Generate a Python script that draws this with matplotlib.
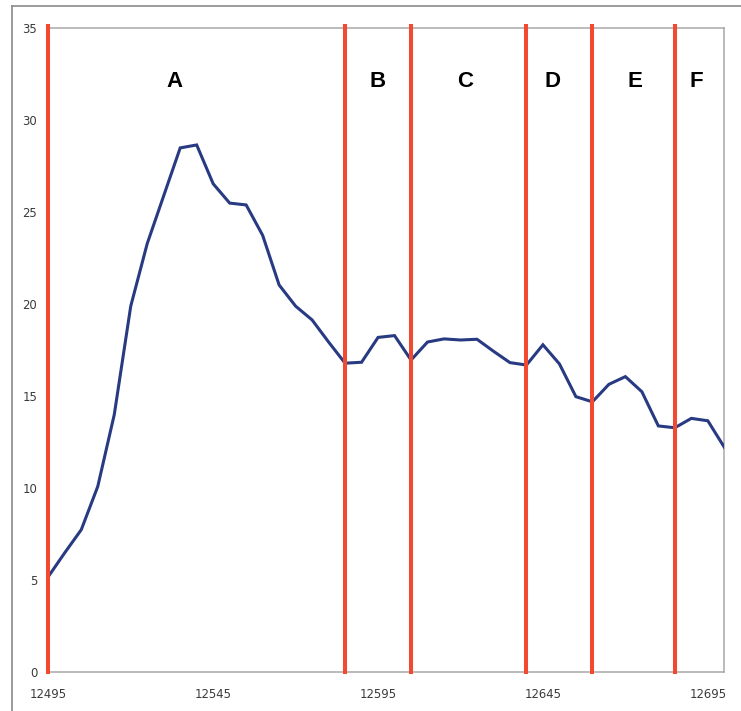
import matplotlib
matplotlib.use("Agg")
import matplotlib.pyplot as plt
from matplotlib.lines import Line2D

# Data
x_start = 12495
x_step = 5
values = [5.2, 6.5, 7.75, 10.1, 14.0, 19.9, 23.3, 25.9, 28.5, 28.66,
          26.55, 25.5, 25.4, 23.75, 21.05, 19.9, 19.15, 17.95, 16.8, 16.85,
          18.2, 18.3, 16.97, 17.95, 18.12, 18.06, 18.1, 17.45, 16.83, 16.7,
          17.8, 16.76, 14.98, 14.7, 15.65, 16.07, 15.25, 13.39, 13.29, 13.8,
          13.67, 12.23]
xs = [x_start + i * x_step for i in range(len(values))]

boundaries = [12495, 12585, 12605, 12640, 12660, 12685]
region_labels = ["A", "B", "C", "D", "E", "F"]
label_x = [12533.4, 12595, 12621.4, 12648, 12673, 12691.4]
label_y = 32.1

x_ticks = [12495, 12545, 12595, 12645, 12695]
y_ticks = [0, 5, 10, 15, 20, 25, 30, 35]

fig = plt.figure(figsize=(7.41, 7.11), dpi=100)
ax = fig.add_axes([48.3 / 741, (711 - 672.3) / 711, 676 / 741, 644 / 711])

ax.plot(xs, values, color="#283a82", linewidth=2.2, zorder=3, solid_joinstyle="miter")
for b in boundaries:
    ax.axvline(b, color="#f24a30", linewidth=2.9, zorder=4, clip_on=False, ymin=0, ymax=1.003)

for lx, lab in zip(label_x, region_labels):
    ax.text(lx, label_y, lab, ha="center", va="center", fontsize=16,
            fontweight="bold", family="Liberation Sans", color="black")

ax.set_xlim(12495, 12700)
ax.set_ylim(0, 35)
ax.set_xticks(x_ticks)
ax.set_yticks(y_ticks)
ax.tick_params(axis="both", length=0, labelsize=8.4, colors="#3a3a3a")
ax.tick_params(axis="x", pad=11)
ax.tick_params(axis="y", pad=8)
for s in ax.spines.values():
    s.set_color("#a8a8a8")
    s.set_linewidth(1.1)

# Outer border (partially visible)
fig.add_artist(Line2D([11.5 / 741, 11.5 / 741], [0, 1 - 6 / 711], transform=fig.transFigure,
                      color="#8a8a8a", linewidth=1.2))
fig.add_artist(Line2D([11.5 / 741, 1], [1 - 6 / 711, 1 - 6 / 711], transform=fig.transFigure,
                      color="#8a8a8a", linewidth=1.2))

fig.savefig("out.png", dpi=100)
